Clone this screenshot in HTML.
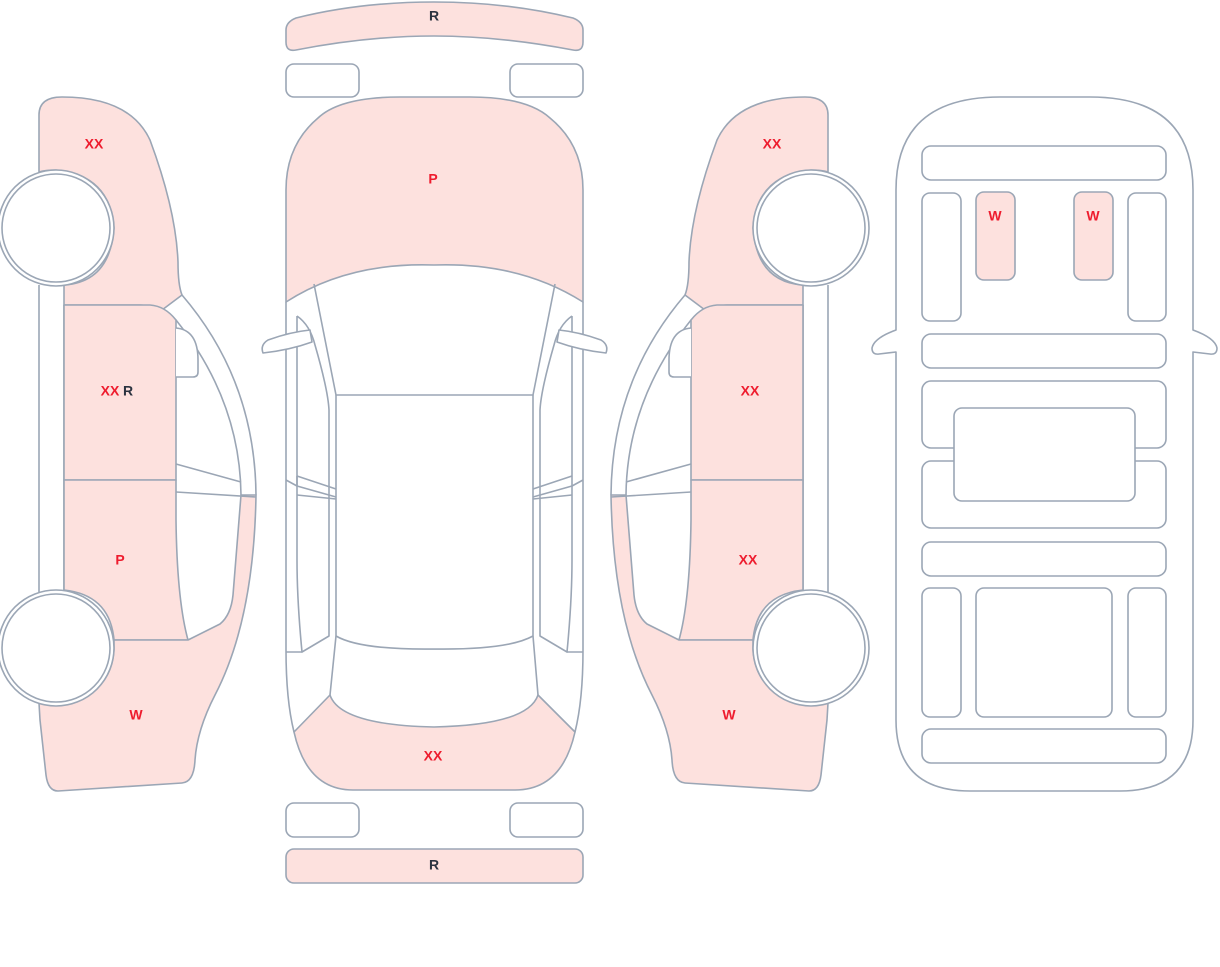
<!DOCTYPE html>
<html><head><meta charset="utf-8"><style>
html,body{margin:0;padding:0;background:#fff;width:1220px;height:967px;overflow:hidden}
svg{display:block}
text{font-family:"Liberation Sans",sans-serif;font-size:14px;font-weight:bold;text-anchor:middle;dominant-baseline:middle}
.r{fill:#ee1c2e}.k{fill:#2b3340}
</style></head><body>
<svg width="1220" height="967" viewBox="0 0 1220 967" xmlns="http://www.w3.org/2000/svg">
<defs>
<g id="side" stroke="#9ba6b5" stroke-width="1.6" fill="none" stroke-linejoin="round">
  <!-- front fender -->
  <path d="M39,172 L39,115 Q39,97 62,97 Q130,97 150,140 Q176,210 178,262 Q178,285 182,295 L162,310 Q150,305 140,305 L64,305 L64,285 Q110,282 114,228 Q110,175 56,170 Q45,170 39,172 Z" fill="#fde1de"/>
  <!-- side strip -->
  <path d="M39,285 L39,592 M64,305 L64,592"/>
  <!-- front door -->
  <path d="M64,305 L150,305 Q165,306 176,320 L176,480 L64,480 Z" fill="#fde1de"/>
  <!-- rear door -->
  <path d="M64,480 L176,480 L176,520 Q177,600 188,640 L114,640 Q110,595 64,590 Z" fill="#fde1de"/>
  <!-- rear quarter -->
  <path d="M114,640 L188,640 L220,624 Q231,615 233,595 L241,495 L256,495 Q254,620 215,695 Q197,730 195,760 Q194,782 182,783 L58,791 Q48,791 46,775 L40,720 L39,703 Q110,705 114,650 Z" fill="#fde1de"/>
  <!-- wheels -->
  <circle cx="56" cy="228" r="58" fill="#fff"/>
  <circle cx="56" cy="228" r="54" fill="#fff"/>
  <circle cx="56" cy="648" r="58" fill="#fff"/>
  <circle cx="56" cy="648" r="54" fill="#fff"/>
  <!-- pillar -->
  <path d="M182,295 Q255,380 256,495"/>
  <path d="M176,320 Q240,400 241,495" />
  <path d="M176,464 L241,482 M176,492 L256,497"/>
  <path d="M176,328 Q198,330 198,360 L198,372 Q198,377 193,377 L176,377" fill="#fff"/>
</g>
</defs>
<use href="#side"/>
<use href="#side" transform="translate(867,0) scale(-1,1)"/>

<g stroke="#9ba6b5" stroke-width="1.6" fill="none" stroke-linejoin="round">
  <!-- top view -->
  <path d="M286,30 Q286,22 296,18 Q360,2 434,2 Q508,2 573,18 Q583,22 583,30 L583,42 Q583,52 573,50 Q500,36 434,36 Q368,36 296,50 Q286,52 286,42 Z" fill="#fde1de"/>
  <rect x="286" y="64" width="73" height="33" rx="8"/>
  <rect x="510" y="64" width="73" height="33" rx="8"/>
  <path d="M286,302 L286,190 Q286,145 318,118 Q340,97 400,97 L470,97 Q527,97 550,118 Q583,145 583,190 L583,302 Q520,262 434,265 Q348,262 286,302 Z" fill="#fde1de"/>
  <path d="M286,302 L286,650 Q286,700 294,732 M583,302 L583,650 Q583,700 575,732"/>
  <path d="M294,732 L330,695 Q340,725 434,727 Q528,725 538,695 L575,732 Q562,790 515,790 L353,790 Q307,790 294,732 Z" fill="#fde1de"/>
  <!-- windshield & roof -->
  <path d="M314,284 L336,395 L533,395 L555,284"/>
  <path d="M336,395 L336,636 Q360,650 434,649 Q508,650 533,636 L533,395"/>
  <path d="M297,316 Q310,325 315,345 Q328,390 329,410 L329,636 L302,652 Q297,600 297,560 L297,316"/>
  <path d="M572,316 Q559,325 554,345 Q541,390 540,410 L540,636 L567,652 Q572,600 572,560 L572,316"/>
  <path d="M286,652 L302,652 M583,652 L567,652"/>
  <path d="M336,636 L330,695 M533,636 L538,695"/>
  <path d="M286,480 L297,486 L336,497 M297,476 L336,489 M297,486 L297,476 M297,495 L336,499"/>
  <path d="M583,480 L572,486 L533,497 M572,476 L533,489 M572,495 L533,499"/>
  <path d="M310,330 Q290,332 268,340 Q260,345 263,353 Q290,350 312,342 Z" fill="#fff"/>
  <path d="M559,330 Q579,332 601,340 Q609,345 606,353 Q579,350 557,342 Z" fill="#fff"/>
  <rect x="286" y="803" width="73" height="34" rx="8"/>
  <rect x="510" y="803" width="73" height="34" rx="8"/>
  <rect x="286" y="849" width="297" height="34" rx="8" fill="#fde1de"/>

  <!-- plan view -->
  <path d="M896,330 L896,190 Q896,97 1000,97 L1090,97 Q1193,97 1193,190 L1193,330 Q1215,338 1217,348 Q1217,355 1210,354 L1193,352 L1193,720 Q1193,791 1120,791 L970,791 Q896,791 896,720 L896,352 L879,354 Q872,355 872,348 Q874,338 896,330 Z"/>
  <rect x="922" y="146" width="244" height="34" rx="9"/>
  <rect x="922" y="193" width="39" height="128" rx="8"/>
  <rect x="976" y="192" width="39" height="88" rx="8" fill="#fde1de"/>
  <rect x="1074" y="192" width="39" height="88" rx="8" fill="#fde1de"/>
  <rect x="1128" y="193" width="38" height="128" rx="8"/>
  <rect x="922" y="334" width="244" height="34" rx="9"/>
  <rect x="922" y="381" width="244" height="67" rx="9"/>
  <rect x="922" y="461" width="244" height="67" rx="9"/>
  <rect x="954" y="408" width="181" height="93" rx="8" fill="#fff"/>
  <rect x="922" y="542" width="244" height="34" rx="9"/>
  <rect x="922" y="588" width="39" height="129" rx="8"/>
  <rect x="976" y="588" width="136" height="129" rx="8"/>
  <rect x="1128" y="588" width="38" height="129" rx="8"/>
  <rect x="922" y="729" width="244" height="34" rx="9"/>
</g>

<text x="94" y="145" class="r">XX</text>
<text x="110" y="392" class="r">XX</text><text x="128" y="392" class="k">R</text>
<text x="120" y="561" class="r">P</text>
<text x="136" y="716" class="r">W</text>
<text x="434" y="17" class="k">R</text>
<text x="433" y="180" class="r">P</text>
<text x="433" y="757" class="r">XX</text>
<text x="434" y="866" class="k">R</text>
<text x="772" y="145" class="r">XX</text>
<text x="750" y="392" class="r">XX</text>
<text x="748" y="561" class="r">XX</text>
<text x="729" y="716" class="r">W</text>
<text x="995" y="217" class="r">W</text>
<text x="1093" y="217" class="r">W</text>
</svg>
</body></html>
